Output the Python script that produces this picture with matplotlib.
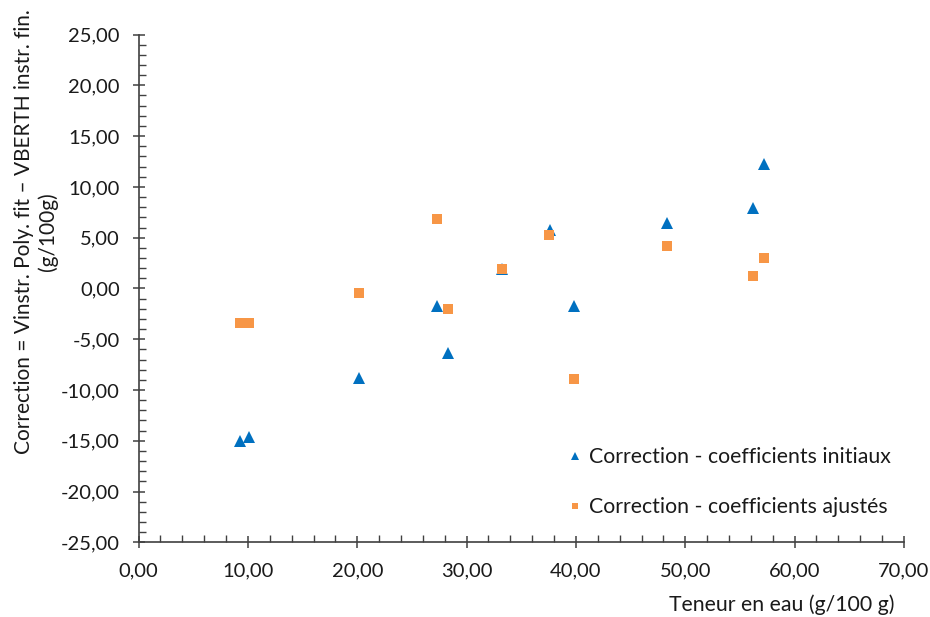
import numpy as np
import matplotlib
matplotlib.use("Agg")
import matplotlib.pyplot as plt
from matplotlib.ticker import MultipleLocator, FuncFormatter

# water content (g/100 g)
x_init = [9.3, 10.1, 20.15, 27.3, 28.3, 33.25, 37.6, 39.8, 48.3, 56.2, 57.2]
y_init = [-15.0, -14.6, -8.8, -1.7, -6.4, 1.9, 5.8, -1.7, 6.4, 7.9, 12.3]

x_adj = [9.3, 10.1, 20.15, 27.3, 28.3, 33.25, 37.55, 39.8, 48.3, 56.2, 57.2]
y_adj = [-3.4, -3.45, -0.4, 6.8, -2.0, 1.9, 5.3, -8.9, 4.2, 1.2, 3.0]

lab_init = "Correction - coefficients initiaux"
lab_adj = "Correction - coefficients ajustés"

plt.rcParams['font.family'] = ['Lato', 'DejaVu Sans']
txt_col = '#1a1a1a'

fig = plt.figure(figsize=(9.3, 6.17), dpi=100)
ax = fig.add_axes([0.149, 0.121, 0.823, 0.823])

ax.plot(x_init, y_init, '^', color='#0070C0', ms=9, mew=0, label=lab_init, zorder=3)
ax.plot(x_adj, y_adj, 's', color='#F79646', ms=7, mew=0, label=lab_adj, zorder=4)

ax.set_xlim(0, 70)
ax.set_ylim(-25, 25)
ax.xaxis.set_major_locator(MultipleLocator(10))
ax.xaxis.set_minor_locator(MultipleLocator(2))
ax.yaxis.set_major_locator(MultipleLocator(5))
ax.yaxis.set_minor_locator(MultipleLocator(1))
fmt = FuncFormatter(lambda v, p: ("%.2f" % v).replace('.', ','))
ax.xaxis.set_major_formatter(fmt)
ax.yaxis.set_major_formatter(fmt)

for s in ['top', 'right']:
    ax.spines[s].set_visible(False)
for s in ['left', 'bottom']:
    ax.spines[s].set_color('#404040')
    ax.spines[s].set_linewidth(1.2)

ax.tick_params(which='major', direction='inout', length=9, width=1.1,
               color='#404040', labelsize=14.5, labelcolor=txt_col)
ax.tick_params(axis='y', which='major', pad=9)
ax.tick_params(axis='x', which='major', pad=10)
ax.tick_params(which='minor', direction='in', length=5, width=1.0, color='#404040')

fig.text(36 / 930, 1 - 232 / 617,
         "Correction = Vinstr. Poly. fit – VBERTH instr. fin.\n(g/100g)",
         rotation=90, ha='center', va='center', multialignment='center',
         fontsize=15, color=txt_col, linespacing=1.15)
fig.text(0.962, 0.003, "Teneur en eau (g/100 g)", ha='right', va='bottom',
         fontsize=15.3, color=txt_col)

leg = ax.legend(loc='lower right', bbox_to_anchor=(1.008, 0.012), frameon=False,
                fontsize=15.3, labelspacing=1.4, handletextpad=0.15,
                handlelength=1.0, markerscale=0.7)
for t in leg.get_texts():
    t.set_color(txt_col)

fig.savefig("out.png", dpi=100)
